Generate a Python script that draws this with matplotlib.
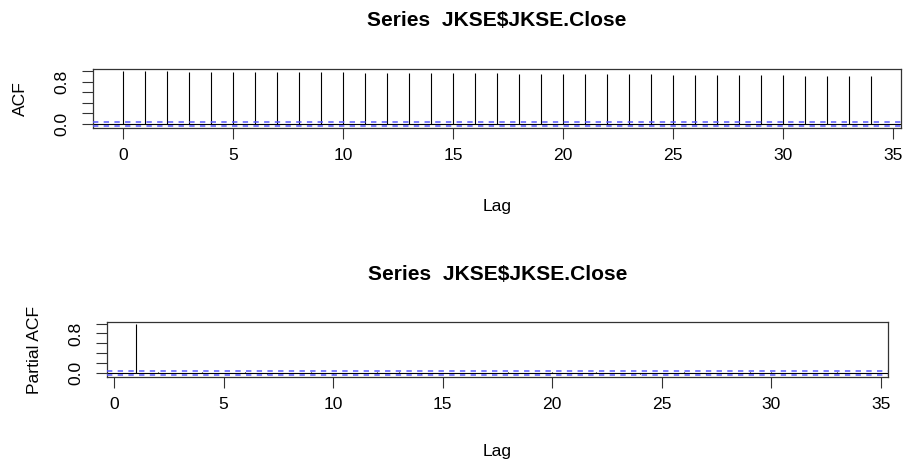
import matplotlib
matplotlib.use("Agg")
import matplotlib.pyplot as plt
import numpy as np

# ---- data ----
title_text = "Series  JKSE$JKSE.Close"
acf_lags = list(range(0, 35))
acf_vals = [1.000, 0.998, 0.996, 0.993, 0.991, 0.988, 0.986, 0.983, 0.981, 0.978,
            0.975, 0.973, 0.970, 0.967, 0.965, 0.962, 0.959, 0.957, 0.954, 0.951,
            0.948, 0.945, 0.943, 0.940, 0.937, 0.934, 0.931, 0.928, 0.925, 0.922,
            0.919, 0.916, 0.913, 0.910, 0.907]
pacf_lags = list(range(1, 35))
pacf_vals = [0.990, 0.020, -0.010, 0.012, 0.003, 0.018, -0.015, 0.008, 0.025, -0.012,
             0.004, 0.016, 0.010, -0.018, 0.009, 0.002, -0.010, 0.020, 0.001, 0.011,
             -0.008, 0.017, 0.003, -0.011, 0.009, 0.019, -0.016, 0.002, 0.012, 0.018,
             -0.009, 0.004, 0.013, -0.007]
ci = 0.04
ytick_vals = [0.0, 0.2, 0.4, 0.6, 0.8, 1.0]
ytick_labels = ["0.0", "", "", "", "0.8", ""]
xtick_vals = [0, 5, 10, 15, 20, 25, 30, 35]

W, H = 904, 461
plt.rcParams['font.family'] = ['Liberation Sans', 'DejaVu Sans']
FS = 12.6
fig = plt.figure(figsize=(W / 100, H / 100), dpi=100)

def px_box(l, t, r, b):
    return [l / W, 1 - b / H, (r - l) / W, (b - t) / H]

def panel(box, lags, vals, ylabel, ylab_x, title_base, xlab_base):
    ax = fig.add_axes(px_box(*box))
    ax.vlines(lags, 0, vals, color='black', lw=0.8, zorder=2)
    ax.axhline(0, color='black', lw=0.8, zorder=2)
    for s in (ci, -ci):
        ax.axhline(s, color='#5858ff', lw=1.1, linestyle=(0, (3.5, 3.5)), zorder=3)
    lo = min(min(vals), -ci, 0)
    hi = max(max(vals), ci)
    pad = 0.04 * (hi - lo)
    ax.set_ylim(lo - pad, hi + pad)
    xl, xh = min(lags), max(lags)
    xp = 0.04 * (xh - xl)
    ax.set_xlim(xl - xp, xh + xp)
    ax.set_yticks(ytick_vals)
    ax.set_yticklabels(ytick_labels)
    ax.set_xticks(xtick_vals)
    ax.set_xticklabels([str(v) for v in xtick_vals])
    ax.tick_params(axis='both', direction='out', length=7.9, width=0.8,
                   labelsize=FS, color='#333333')
    ax.tick_params(axis='x', pad=6.5)
    ax.tick_params(axis='y', pad=9)
    plt.setp(ax.get_yticklabels(), rotation=90, va='center')
    for sp in ax.spines.values():
        sp.set_color('#333333')
        sp.set_linewidth(0.9)
    cx = (box[0] + box[2]) / 2
    fig.text(cx / W, 1 - title_base / H, title_text, ha='center', va='baseline',
             fontsize=FS * 1.2, fontweight='bold')
    fig.text(cx / W, 1 - xlab_base / H, "Lag", ha='center', va='baseline', fontsize=FS)
    cy = (box[1] + box[3]) / 2
    fig.text(ylab_x / W, 1 - cy / H, ylabel, ha='center', va='center',
             rotation=90, fontsize=FS)
    return ax

panel((93, 69, 901, 128), acf_lags, acf_vals, "ACF", 20, 26, 211)
panel((107, 322, 888, 377), pacf_lags, pacf_vals, "Partial ACF", 35, 280, 456)

fig.savefig("out.png", dpi=100, facecolor='white')
